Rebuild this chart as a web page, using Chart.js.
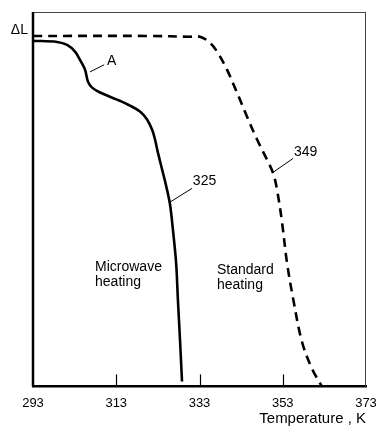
<!DOCTYPE html>
<html>
<head>
<meta charset="utf-8">
<script src="https://cdn.jsdelivr.net/npm/chart.js@4/dist/chart.umd.min.js"></script>
<style>
  html, body { margin: 0; padding: 0; background: #fff; }
  #wrap { width: 376px; height: 428px; }
</style>
</head>
<body>
<div id="wrap"><canvas id="myChart" width="376" height="428"></canvas></div>
<script>
// tick labels on the temperature axis (K)
const tempTicks = [293, 313, 333, 353, 373];

// microwave heating curve (solid), temperature K vs relative ΔL
const microwaveT = [293.0, 298.8, 301.2, 303.1, 304.3, 305.5, 306.2, 307.2, 309.1, 313.2,
                    316.3, 318.7, 320.4, 321.6, 322.3, 323.0, 324.0, 325.0, 325.9, 326.6,
                    327.4, 327.8, 328.3, 328.8];
const microwaveL = [92.3, 92.0, 91.2, 89.4, 87.2, 84.6, 81.4, 79.8, 78.5, 76.6,
                    75.0, 73.4, 71.3, 68.6, 66.0, 62.5, 58.0, 53.5, 48.7, 42.0,
                    32.7, 23.4, 12.8, 1.3];

// standard heating curve (dashed)
const standardT = [293.0, 321.1, 330.7, 333.1, 335.5, 337.4, 339.6, 342.0, 344.4, 346.8,
                   349.2, 350.7, 351.6, 352.8, 354.0, 355.5, 357.6, 360.0, 362.4];
const standardL = [93.6, 93.6, 93.4, 93.4, 91.8, 89.1, 84.6, 78.5, 72.1, 66.0,
                   60.6, 56.9, 52.7, 44.1, 33.2, 23.4, 12.0, 4.8, 0.0];

// callouts: text, text position, leader line start/end (data units)
const calloutText = ['A', '325', '349'];
const calloutPos = [[310.8, 87.0], [331.4, 54.8], [355.7, 62.5]];
const calloutLine = [[306.7, 84.0, 310.1, 85.9], [325.9, 49.2, 331.2, 52.9], [350.7, 57.2, 355.5, 60.9]];

// curve names
const curveNames = [['Microwave', 'heating'], ['Standard', 'heating']];
const curveNamePos = [[307.9, 31.9], [337.2, 31.1]];

function toPoints(xs, ys) {
  return xs.map((x, i) => ({ x: x, y: ys[i] }));
}

const FONT = '"Liberation Sans", Arial, sans-serif';

const framePlugin = {
  id: 'frame',
  afterDraw(chart) {
    const ctx = chart.ctx;
    const a = chart.chartArea;
    const xs = chart.scales.x;
    const ys = chart.scales.y;
    ctx.save();
    // thin top and right edges
    ctx.strokeStyle = '#444';
    ctx.lineWidth = 1;
    ctx.beginPath();
    ctx.moveTo(a.left, a.top + 0.5);
    ctx.lineTo(a.right, a.top + 0.5);
    ctx.moveTo(a.right - 0.5, a.top);
    ctx.lineTo(a.right - 0.5, a.bottom);
    ctx.stroke();
    // bold left edge
    ctx.strokeStyle = '#000';
    ctx.lineWidth = 2.5;
    ctx.beginPath();
    ctx.moveTo(a.left, a.top);
    ctx.lineTo(a.left, a.bottom);
    ctx.stroke();
    // inner tick marks
    ctx.lineWidth = 1.2;
    tempTicks.slice(1, -1).forEach(t => {
      const px = Math.round(xs.getPixelForValue(t)) + 0.5;
      ctx.beginPath();
      ctx.moveTo(px, a.bottom);
      ctx.lineTo(px, a.bottom - 12);
      ctx.stroke();
    });
    // ΔL label
    ctx.fillStyle = '#000';
    ctx.font = '14px ' + FONT;
    ctx.textAlign = 'right';
    ctx.textBaseline = 'middle';
    ctx.fillText('ΔL', a.left - 5, ys.getPixelForValue(95.2));
    // callouts
    ctx.textAlign = 'left';
    ctx.lineWidth = 1;
    calloutText.forEach((t, i) => {
      const l = calloutLine[i];
      ctx.beginPath();
      ctx.moveTo(xs.getPixelForValue(l[0]), ys.getPixelForValue(l[1]));
      ctx.lineTo(xs.getPixelForValue(l[2]), ys.getPixelForValue(l[3]));
      ctx.stroke();
      ctx.fillText(t, xs.getPixelForValue(calloutPos[i][0]), ys.getPixelForValue(calloutPos[i][1]));
    });
    // curve names
    curveNames.forEach((lines, i) => {
      const px = xs.getPixelForValue(curveNamePos[i][0]);
      const py = ys.getPixelForValue(curveNamePos[i][1]);
      lines.forEach((s, j) => ctx.fillText(s, px, py + j * 15));
    });
    ctx.restore();
  }
};

const ctx = document.getElementById('myChart').getContext('2d');
const myChart = new Chart(ctx, {
  type: 'scatter',
  data: {
    datasets: [{
      label: 'Microwave heating',
      data: toPoints(microwaveT, microwaveL),
      showLine: true,
      borderColor: '#000',
      borderWidth: 2.6,
      pointRadius: 0,
      tension: 0.35
    }, {
      label: 'Standard heating',
      data: toPoints(standardT, standardL),
      showLine: true,
      borderColor: '#000',
      borderWidth: 2.6,
      borderDash: [9, 6],
      pointRadius: 0,
      tension: 0.35
    }]
  },
  options: {
    responsive: false,
    animation: false,
    layout: { padding: { left: 33, right: 0, top: 12, bottom: 0 } },
    plugins: { legend: { display: false }, tooltip: { enabled: false } },
    scales: {
      x: {
        type: 'linear',
        min: 293,
        max: 373,
        afterBuildTicks(scale) { scale.ticks = tempTicks.map(v => ({ value: v })); },
        afterFit(scale) { scale.paddingRight = 10; scale.paddingLeft = 0; },
        grid: { display: false, drawTicks: false },
        border: { display: true, color: '#000', width: 2.5 },
        ticks: { color: '#000', padding: 9, maxRotation: 0, font: { family: FONT, size: 13 } },
        title: {
          display: true,
          text: 'Temperature , K',
          align: 'end',
          color: '#000',
          padding: { top: -10, bottom: 0 },
          font: { family: FONT, size: 15 }
        }
      },
      y: {
        display: false,
        min: 0,
        max: 100
      }
    }
  },
  plugins: [framePlugin]
});
</script>
</body>
</html>
